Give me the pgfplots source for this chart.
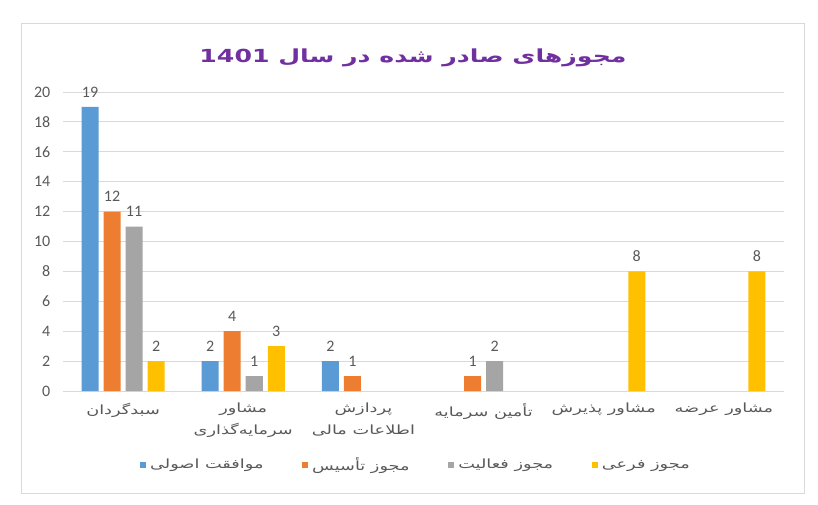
\documentclass[border=0pt]{standalone}
\usepackage{fontspec}
\usepackage{pgfplots}
\pgfplotsset{compat=1.18}
\TeXXeTstate=1
\setmainfont{Carlito}
\newfontfamily\fa[Script=Arabic,FakeStretch=1.4]{DejaVu Sans}

\definecolor{cblue}{HTML}{5B9BD5}
\definecolor{corange}{HTML}{ED7D31}
\definecolor{cgray}{HTML}{A5A5A5}
\definecolor{cyellow}{HTML}{FFC000}
\definecolor{ctext}{HTML}{595959}
\definecolor{cgrid}{HTML}{D9D9D9}
\definecolor{ctitle}{HTML}{7030A0}

\begin{document}
\begin{tikzpicture}
% page and chart frame (1px = 0.75pt, origin = lower left of plot area)
\path (-47.25pt,-84.75pt) rectangle (566.25pt,293.25pt);
\draw[cgrid] (-31.5pt,-76.5pt) rectangle (555.75pt,276pt);
\node[font=\fa\bfseries\fontsize{13.5}{16}\selectfont, text=ctitle] at (262.5pt,250pt)
    {\beginR مجوزهای صادر شده در سال \beginL1401\endL\endR};
\begin{axis}[
    scale only axis,
    width=540.75pt, height=224.25pt,
    ybar=3.75pt, bar width=12.75pt,
    xmin=-0.5, xmax=5.5,
    ymin=0, ymax=20,
    ytick={0,2,...,20},
    xtick={0,...,5},
    xticklabels={
        {\beginR سبدگردان\endR},
        {\beginR مشاور\endR\\\beginR سرمایه‌گذاری\endR},
        {\beginR پردازش\endR\\\beginR اطلاعات مالی\endR},
        {\beginR تأمین سرمایه\endR},
        {\beginR مشاور پذیرش\endR},
        {\beginR مشاور عرضه\endR}},
    xticklabel style={font=\fa\fontsize{9.5}{16}\selectfont, text=ctext, align=center,
        anchor=north, yshift=-5.5pt},
    yticklabel style={font=\fontsize{12}{14}\selectfont, text=ctext, xshift=-6pt},
    /pgf/number format/assume math mode=true,
    major tick length=0pt,
    axis line style={draw=none},
    ymajorgrids=true,
    grid style={cgrid, line width=0.75pt},
    nodes near coords,
    every node near coord/.append style={font=\fontsize{12}{14}\selectfont, text=ctext,
        anchor=center, yshift=11.25pt},
    legend columns=4,
    legend style={draw=none, at={(0.49,-0.2475)}, anchor=center,
        font=\fa\fontsize{9.5}{12}\selectfont, text=ctext,
        /tikz/every odd column/.append style={column sep=1pt},
        /tikz/every even column/.append style={column sep=27pt}},
    legend image code/.code={\fill[#1] (0pt,-2.25pt) rectangle (4.5pt,2.25pt);},
]
\addplot[fill=cblue, draw=none] coordinates {(0,19) (1,2) (2,2)};
\addplot[fill=corange, draw=none] coordinates {(0,12) (1,4) (2,1) (3,1)};
\addplot[fill=cgray, draw=none] coordinates {(0,11) (1,1) (3,2)};
\addplot[fill=cyellow, draw=none] coordinates {(0,2) (1,3) (4,8) (5,8)};
\legend{{\beginR موافقت اصولی\endR},{\beginR مجوز تأسیس\endR},{\beginR مجوز فعالیت\endR},{\beginR مجوز فرعی\endR}}
\end{axis}
\end{tikzpicture}
\end{document}
